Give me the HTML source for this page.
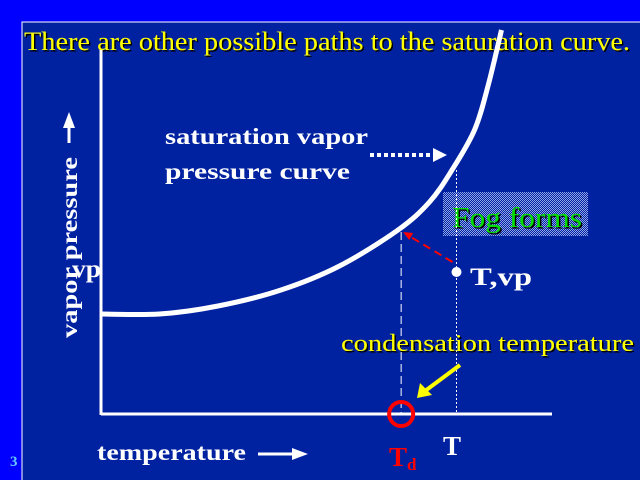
<!DOCTYPE html>
<html><head><meta charset="utf-8">
<style>
html,body{margin:0;padding:0;background:#0000ff;}
#wrap{position:relative;width:640px;height:480px;overflow:hidden;background:#0000ff;font-family:"Liberation Serif",serif;}
svg{position:absolute;left:0;top:0;}
</style></head>
<body>
<div id="wrap">
<svg id="chart" width="640" height="480">
<defs>
<pattern id="dith" width="2" height="2" patternUnits="userSpaceOnUse">
<rect width="2" height="2" fill="#0022a0"/>
<rect width="1" height="1" fill="#8fa6e8"/>
<rect x="1" y="1" width="1" height="1" fill="#8fa6e8"/>
</pattern>
<filter id="sh" x="-5%" y="-5%" width="110%" height="120%"><feDropShadow dx="1.5" dy="1.5" stdDeviation="0" flood-color="#000"/></filter>
</defs>
<rect x="22" y="22" width="620" height="460" fill="#0022a0" stroke="#ffffff" stroke-width="1"/>
<text x="24" y="50" font-size="26" fill="#ffff00" filter="url(#sh)" textLength="606" lengthAdjust="spacingAndGlyphs">There are other possible paths to the saturation curve.</text>
<g id="marks"></g>
<g font-weight="bold" fill="#ffffff">
<text x="165" y="144" font-size="23" textLength="203" lengthAdjust="spacingAndGlyphs">saturation vapor</text>
<text x="165" y="179" font-size="23" textLength="185" lengthAdjust="spacingAndGlyphs">pressure  curve</text>
<text x="470" y="285" font-size="25" textLength="62" lengthAdjust="spacingAndGlyphs">T,vp</text>
<text x="72" y="277" font-size="25" textLength="29" lengthAdjust="spacingAndGlyphs">vp</text>
<text x="443" y="455" font-size="27">T</text>
<text x="97" y="460" font-size="23" textLength="149" lengthAdjust="spacingAndGlyphs">temperature</text>
<text transform="translate(77,338) rotate(-90)" font-size="23" textLength="181" lengthAdjust="spacingAndGlyphs">vapor pressure</text>
<text x="10" y="466" font-size="15" fill="#66ccff">3</text>
</g>
<text x="389" y="466" font-size="27" font-weight="bold" fill="#ff0000">T<tspan font-size="17" dy="4">d</tspan></text>
<text x="341" y="351" font-size="24" fill="#ffff00" filter="url(#sh)" textLength="293" lengthAdjust="spacingAndGlyphs">condensation temperature</text>
</svg>
</div>
<script>
// data
const temps = [0, 13, 26, 40, 53, 66, 73, 78, 83, 86, 89];
const vps   = [25, 25, 27, 31, 37, 46, 53, 61, 71, 82, 96];
const pointT = 79, pointVp = 35.5;
const dewT = 66.7;

const X0=101, Y0=414;
const xs = t => X0 + t*4.5;
const ys = v => Y0 - v*4;
const NS='http://www.w3.org/2000/svg';
const g=document.getElementById('marks');
function mk(tag, attrs){const e=document.createElementNS(NS,tag);for(const k in attrs)e.setAttribute(k,attrs[k]);g.appendChild(e);return e;}

let e;
// fog box
e=mk('rect',{x:443,y:192,width:145,height:44,fill:'url(#dith)'});


e=mk('text',{x:452,y:227,'font-size':29,fill:'#00dd00',filter:'url(#sh)',textLength:130,lengthAdjust:'spacingAndGlyphs'});e.textContent='Fog forms';



// axes
e=mk('line',{x1:X0,y1:50,x2:X0,y2:Y0+1,stroke:'#fff','stroke-width':3});


e=mk('line',{x1:X0,y1:Y0,x2:552,y2:Y0,stroke:'#fff','stroke-width':3});



// axis arrows
e=mk('line',{x1:69,y1:143,x2:69,y2:120,stroke:'#fff','stroke-width':3});


e=mk('polygon',{points:'63,128 69,112 75,128',fill:'#fff'});


e=mk('line',{x1:258,y1:454,x2:296,y2:454,stroke:'#fff','stroke-width':3});


e=mk('polygon',{points:'292,448 308,454 292,460',fill:'#fff'});



// guide lines
e=mk('line',{x1:xs(dewT),y1:ys(46)+2,x2:xs(dewT),y2:Y0,stroke:'#fff','stroke-width':1,'stroke-dasharray':'8,4'});


e=mk('line',{x1:xs(pointT),y1:ys(61),x2:xs(pointT),y2:Y0,stroke:'#fff','stroke-width':1,'stroke-dasharray':'2,2'});



// smooth curve (Catmull-Rom)
const P=temps.map((t,i)=>[xs(t),ys(vps[i])]);
let d='M'+P[0][0]+' '+P[0][1];
for(let i=0;i<P.length-1;i++){
  const p0=P[Math.max(0,i-1)],p1=P[i],p2=P[i+1],p3=P[Math.min(P.length-1,i+2)];
  const c1=[p1[0]+(p2[0]-p0[0])/6,p1[1]+(p2[1]-p0[1])/6];
  const c2=[p2[0]-(p3[0]-p1[0])/6,p2[1]-(p3[1]-p1[1])/6];
  d+=' C'+c1[0].toFixed(1)+' '+c1[1].toFixed(1)+' '+c2[0].toFixed(1)+' '+c2[1].toFixed(1)+' '+p2[0].toFixed(1)+' '+p2[1].toFixed(1);
}
e=mk('path',{d:d,fill:'none',stroke:'#fff','stroke-width':5,'stroke-linejoin':'round'});



// arrows
e=mk('line',{x1:370,y1:155,x2:434,y2:155,stroke:'#fff','stroke-width':4,'stroke-dasharray':'4,3'});


e=mk('polygon',{points:'433,148 447,155 433,162',fill:'#fff'});


e=mk('line',{x1:xs(pointT)-4,y1:ys(pointVp)-10,x2:xs(dewT)+8,y2:ys(46)+6,stroke:'#ff0000','stroke-width':2,'stroke-dasharray':'8,5'});


e=mk('polygon',{points:(xs(dewT)+2)+','+(ys(46)+2)+' '+(xs(dewT)+12)+','+(ys(46)+3)+' '+(xs(dewT)+8)+','+(ys(46)+10),fill:'#ff0000'});


e=mk('line',{x1:460,y1:365,x2:425,y2:391,stroke:'#ffff00','stroke-width':4});


e=mk('polygon',{points:'417,398 420,383 432,395',fill:'#ffff00'});



// point & circle
e=mk('circle',{cx:xs(pointT),cy:ys(pointVp),r:5,fill:'#fff'});


e=mk('circle',{cx:xs(dewT),cy:Y0,r:12,fill:'none',stroke:'#ff0000','stroke-width':4});


</script>
</body></html>
